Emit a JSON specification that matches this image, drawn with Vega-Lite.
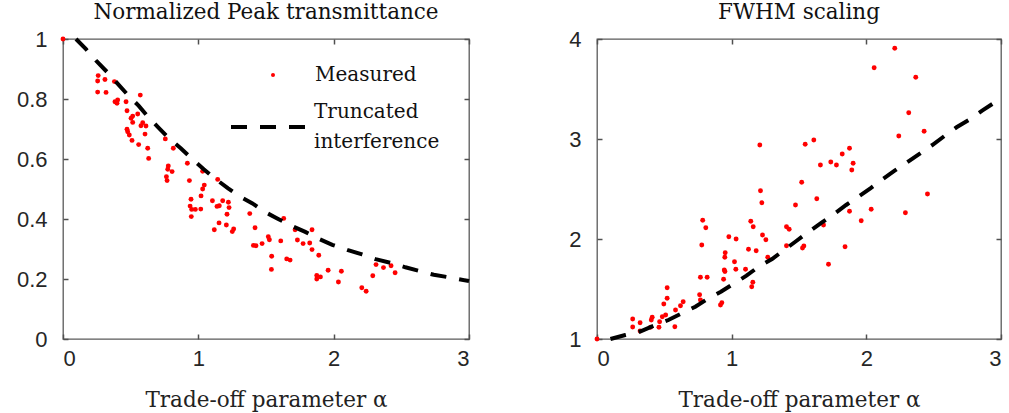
{
  "$schema": "https://vega.github.io/schema/vega-lite/v6.json",
  "padding": {"left": 15, "top": 0, "right": 0, "bottom": 0},
  "background": "white",
  "bounds": "flush",
  "spacing": 128,
  "datasets": {
    "leftMeas": [
      {"alpha": 0, "value": 1.0, "series": "Measured"},
      {"alpha": 0.26, "value": 0.878, "series": "Measured"},
      {"alpha": 0.256, "value": 0.86, "series": "Measured"},
      {"alpha": 0.31, "value": 0.865, "series": "Measured"},
      {"alpha": 0.38, "value": 0.858, "series": "Measured"},
      {"alpha": 0.256, "value": 0.823, "series": "Measured"},
      {"alpha": 0.318, "value": 0.822, "series": "Measured"},
      {"alpha": 0.571, "value": 0.813, "series": "Measured"},
      {"alpha": 0.384, "value": 0.791, "series": "Measured"},
      {"alpha": 0.404, "value": 0.797, "series": "Measured"},
      {"alpha": 0.399, "value": 0.786, "series": "Measured"},
      {"alpha": 0.466, "value": 0.791, "series": "Measured"},
      {"alpha": 0.473, "value": 0.761, "series": "Measured"},
      {"alpha": 0.552, "value": 0.75, "series": "Measured"},
      {"alpha": 0.515, "value": 0.743, "series": "Measured"},
      {"alpha": 0.503, "value": 0.736, "series": "Measured"},
      {"alpha": 0.515, "value": 0.722, "series": "Measured"},
      {"alpha": 0.589, "value": 0.721, "series": "Measured"},
      {"alpha": 0.576, "value": 0.711, "series": "Measured"},
      {"alpha": 0.613, "value": 0.71, "series": "Measured"},
      {"alpha": 0.473, "value": 0.699, "series": "Measured"},
      {"alpha": 0.478, "value": 0.691, "series": "Measured"},
      {"alpha": 0.49, "value": 0.68, "series": "Measured"},
      {"alpha": 0.606, "value": 0.683, "series": "Measured"},
      {"alpha": 0.51, "value": 0.662, "series": "Measured"},
      {"alpha": 0.559, "value": 0.648, "series": "Measured"},
      {"alpha": 0.626, "value": 0.636, "series": "Measured"},
      {"alpha": 0.633, "value": 0.602, "series": "Measured"},
      {"alpha": 0.756, "value": 0.667, "series": "Measured"},
      {"alpha": 0.815, "value": 0.636, "series": "Measured"},
      {"alpha": 0.919, "value": 0.586, "series": "Measured"},
      {"alpha": 0.778, "value": 0.577, "series": "Measured"},
      {"alpha": 0.774, "value": 0.566, "series": "Measured"},
      {"alpha": 0.806, "value": 0.558, "series": "Measured"},
      {"alpha": 0.764, "value": 0.541, "series": "Measured"},
      {"alpha": 0.769, "value": 0.528, "series": "Measured"},
      {"alpha": 0.934, "value": 0.528, "series": "Measured"},
      {"alpha": 1.032, "value": 0.559, "series": "Measured"},
      {"alpha": 1.143, "value": 0.532, "series": "Measured"},
      {"alpha": 1.044, "value": 0.513, "series": "Measured"},
      {"alpha": 1.032, "value": 0.5, "series": "Measured"},
      {"alpha": 1.02, "value": 0.477, "series": "Measured"},
      {"alpha": 0.946, "value": 0.466, "series": "Measured"},
      {"alpha": 1.104, "value": 0.461, "series": "Measured"},
      {"alpha": 1.18, "value": 0.461, "series": "Measured"},
      {"alpha": 1.222, "value": 0.456, "series": "Measured"},
      {"alpha": 0.939, "value": 0.443, "series": "Measured"},
      {"alpha": 1.155, "value": 0.444, "series": "Measured"},
      {"alpha": 1.138, "value": 0.442, "series": "Measured"},
      {"alpha": 1.227, "value": 0.438, "series": "Measured"},
      {"alpha": 0.951, "value": 0.432, "series": "Measured"},
      {"alpha": 0.978, "value": 0.432, "series": "Measured"},
      {"alpha": 1.018, "value": 0.433, "series": "Measured"},
      {"alpha": 1.212, "value": 0.416, "series": "Measured"},
      {"alpha": 1.38, "value": 0.418, "series": "Measured"},
      {"alpha": 0.948, "value": 0.408, "series": "Measured"},
      {"alpha": 1.153, "value": 0.387, "series": "Measured"},
      {"alpha": 1.207, "value": 0.38, "series": "Measured"},
      {"alpha": 1.118, "value": 0.364, "series": "Measured"},
      {"alpha": 1.261, "value": 0.367, "series": "Measured"},
      {"alpha": 1.251, "value": 0.358, "series": "Measured"},
      {"alpha": 1.419, "value": 0.371, "series": "Measured"},
      {"alpha": 1.631, "value": 0.402, "series": "Measured"},
      {"alpha": 1.715, "value": 0.364, "series": "Measured"},
      {"alpha": 1.84, "value": 0.364, "series": "Measured"},
      {"alpha": 1.517, "value": 0.341, "series": "Measured"},
      {"alpha": 1.525, "value": 0.331, "series": "Measured"},
      {"alpha": 1.609, "value": 0.327, "series": "Measured"},
      {"alpha": 1.732, "value": 0.33, "series": "Measured"},
      {"alpha": 1.774, "value": 0.318, "series": "Measured"},
      {"alpha": 1.823, "value": 0.32, "series": "Measured"},
      {"alpha": 1.471, "value": 0.318, "series": "Measured"},
      {"alpha": 1.407, "value": 0.312, "series": "Measured"},
      {"alpha": 1.426, "value": 0.311, "series": "Measured"},
      {"alpha": 1.84, "value": 0.298, "series": "Measured"},
      {"alpha": 1.89, "value": 0.279, "series": "Measured"},
      {"alpha": 1.542, "value": 0.276, "series": "Measured"},
      {"alpha": 1.653, "value": 0.267, "series": "Measured"},
      {"alpha": 1.678, "value": 0.263, "series": "Measured"},
      {"alpha": 1.959, "value": 0.229, "series": "Measured"},
      {"alpha": 2.057, "value": 0.226, "series": "Measured"},
      {"alpha": 1.54, "value": 0.232, "series": "Measured"},
      {"alpha": 1.875, "value": 0.212, "series": "Measured"},
      {"alpha": 1.902, "value": 0.207, "series": "Measured"},
      {"alpha": 1.875, "value": 0.2, "series": "Measured"},
      {"alpha": 2.035, "value": 0.19, "series": "Measured"},
      {"alpha": 2.208, "value": 0.171, "series": "Measured"},
      {"alpha": 2.24, "value": 0.159, "series": "Measured"},
      {"alpha": 2.313, "value": 0.248, "series": "Measured"},
      {"alpha": 2.368, "value": 0.238, "series": "Measured"},
      {"alpha": 2.424, "value": 0.244, "series": "Measured"},
      {"alpha": 2.454, "value": 0.221, "series": "Measured"},
      {"alpha": 2.289, "value": 0.211, "series": "Measured"}
    ],
    "leftLine": [
      {"alpha": 0.096, "value": 1.0, "series": "Truncated interference"},
      {"alpha": 0.17, "value": 0.966, "series": "Truncated interference"},
      {"alpha": 0.25, "value": 0.925, "series": "Truncated interference"},
      {"alpha": 0.33, "value": 0.888, "series": "Truncated interference"},
      {"alpha": 0.4, "value": 0.853, "series": "Truncated interference"},
      {"alpha": 0.47, "value": 0.818, "series": "Truncated interference"},
      {"alpha": 0.56, "value": 0.777, "series": "Truncated interference"},
      {"alpha": 0.63, "value": 0.74, "series": "Truncated interference"},
      {"alpha": 0.7, "value": 0.707, "series": "Truncated interference"},
      {"alpha": 0.78, "value": 0.67, "series": "Truncated interference"},
      {"alpha": 0.87, "value": 0.636, "series": "Truncated interference"},
      {"alpha": 0.95, "value": 0.602, "series": "Truncated interference"},
      {"alpha": 1.04, "value": 0.566, "series": "Truncated interference"},
      {"alpha": 1.12, "value": 0.536, "series": "Truncated interference"},
      {"alpha": 1.22, "value": 0.502, "series": "Truncated interference"},
      {"alpha": 1.3, "value": 0.477, "series": "Truncated interference"},
      {"alpha": 1.4, "value": 0.452, "series": "Truncated interference"},
      {"alpha": 1.49, "value": 0.424, "series": "Truncated interference"},
      {"alpha": 1.59, "value": 0.4, "series": "Truncated interference"},
      {"alpha": 1.69, "value": 0.377, "series": "Truncated interference"},
      {"alpha": 1.79, "value": 0.357, "series": "Truncated interference"},
      {"alpha": 1.89, "value": 0.334, "series": "Truncated interference"},
      {"alpha": 1.99, "value": 0.314, "series": "Truncated interference"},
      {"alpha": 2.1, "value": 0.297, "series": "Truncated interference"},
      {"alpha": 2.21, "value": 0.282, "series": "Truncated interference"},
      {"alpha": 2.31, "value": 0.266, "series": "Truncated interference"},
      {"alpha": 2.42, "value": 0.254, "series": "Truncated interference"},
      {"alpha": 2.53, "value": 0.239, "series": "Truncated interference"},
      {"alpha": 2.63, "value": 0.227, "series": "Truncated interference"},
      {"alpha": 2.74, "value": 0.214, "series": "Truncated interference"},
      {"alpha": 2.86, "value": 0.205, "series": "Truncated interference"},
      {"alpha": 3.0, "value": 0.193, "series": "Truncated interference"}
    ],
    "rightMeas": [
      {"alpha": 0, "value": 1.0},
      {"alpha": 0.265, "value": 1.2},
      {"alpha": 0.265, "value": 1.12},
      {"alpha": 0.32, "value": 1.163},
      {"alpha": 0.32, "value": 1.08},
      {"alpha": 0.41, "value": 1.217},
      {"alpha": 0.403, "value": 1.19},
      {"alpha": 0.398, "value": 1.117},
      {"alpha": 0.46, "value": 1.117},
      {"alpha": 0.465, "value": 1.173},
      {"alpha": 0.485, "value": 1.223},
      {"alpha": 0.51, "value": 1.24},
      {"alpha": 0.521, "value": 1.513},
      {"alpha": 0.521, "value": 1.407},
      {"alpha": 0.496, "value": 1.35},
      {"alpha": 0.578, "value": 1.123},
      {"alpha": 0.583, "value": 1.29},
      {"alpha": 0.62, "value": 1.333},
      {"alpha": 0.64, "value": 1.373},
      {"alpha": 0.785, "value": 2.187},
      {"alpha": 0.808, "value": 2.113},
      {"alpha": 0.778, "value": 1.94},
      {"alpha": 0.768, "value": 1.617},
      {"alpha": 0.818, "value": 1.617},
      {"alpha": 0.762, "value": 1.443},
      {"alpha": 0.768, "value": 1.39},
      {"alpha": 0.979, "value": 2.023},
      {"alpha": 1.033, "value": 2.0},
      {"alpha": 0.952, "value": 1.863},
      {"alpha": 0.949, "value": 1.817},
      {"alpha": 1.021, "value": 1.773},
      {"alpha": 0.945, "value": 1.69},
      {"alpha": 0.95, "value": 1.675},
      {"alpha": 1.031, "value": 1.697},
      {"alpha": 1.103, "value": 1.697},
      {"alpha": 0.94, "value": 1.597},
      {"alpha": 0.927, "value": 1.363},
      {"alpha": 0.917, "value": 1.34},
      {"alpha": 1.125, "value": 1.897},
      {"alpha": 1.182, "value": 1.883},
      {"alpha": 1.149, "value": 1.523},
      {"alpha": 1.157, "value": 1.567},
      {"alpha": 1.142, "value": 2.177},
      {"alpha": 1.16, "value": 2.123},
      {"alpha": 1.229, "value": 2.04},
      {"alpha": 1.254, "value": 1.993},
      {"alpha": 1.268, "value": 1.817},
      {"alpha": 1.407, "value": 2.123},
      {"alpha": 1.427, "value": 2.097},
      {"alpha": 1.407, "value": 1.933},
      {"alpha": 1.214, "value": 2.483},
      {"alpha": 1.224, "value": 2.363},
      {"alpha": 1.209, "value": 2.94},
      {"alpha": 1.474, "value": 2.34},
      {"alpha": 1.52, "value": 2.567},
      {"alpha": 1.546, "value": 2.947},
      {"alpha": 1.61, "value": 2.99},
      {"alpha": 1.632, "value": 2.403},
      {"alpha": 1.536, "value": 1.93},
      {"alpha": 1.526, "value": 1.91},
      {"alpha": 1.659, "value": 2.74},
      {"alpha": 1.736, "value": 2.77},
      {"alpha": 1.778, "value": 2.74},
      {"alpha": 1.821, "value": 2.85},
      {"alpha": 1.875, "value": 2.907},
      {"alpha": 1.902, "value": 2.757},
      {"alpha": 1.892, "value": 2.69},
      {"alpha": 1.682, "value": 2.14},
      {"alpha": 1.719, "value": 1.747},
      {"alpha": 1.842, "value": 1.923},
      {"alpha": 1.875, "value": 2.277},
      {"alpha": 1.962, "value": 2.183},
      {"alpha": 2.036, "value": 2.297},
      {"alpha": 2.058, "value": 3.713},
      {"alpha": 2.211, "value": 3.907},
      {"alpha": 2.241, "value": 3.03},
      {"alpha": 2.29, "value": 2.263},
      {"alpha": 2.315, "value": 3.263},
      {"alpha": 2.367, "value": 3.617},
      {"alpha": 2.429, "value": 3.077},
      {"alpha": 2.454, "value": 2.45}
    ],
    "rightLine": [
      {"alpha": 0.1, "value": 1.0},
      {"alpha": 0.21, "value": 1.04},
      {"alpha": 0.32, "value": 1.075},
      {"alpha": 0.42, "value": 1.133},
      {"alpha": 0.53, "value": 1.19},
      {"alpha": 0.63, "value": 1.257},
      {"alpha": 0.73, "value": 1.323},
      {"alpha": 0.82, "value": 1.4},
      {"alpha": 0.92, "value": 1.473},
      {"alpha": 1.02, "value": 1.557},
      {"alpha": 1.11, "value": 1.633},
      {"alpha": 1.2, "value": 1.723},
      {"alpha": 1.3, "value": 1.8},
      {"alpha": 1.39, "value": 1.89},
      {"alpha": 1.48, "value": 1.98},
      {"alpha": 1.57, "value": 2.07},
      {"alpha": 1.66, "value": 2.157},
      {"alpha": 1.75, "value": 2.24},
      {"alpha": 1.85, "value": 2.34},
      {"alpha": 1.94, "value": 2.423},
      {"alpha": 2.03, "value": 2.507},
      {"alpha": 2.12, "value": 2.597},
      {"alpha": 2.21, "value": 2.683},
      {"alpha": 2.3, "value": 2.763},
      {"alpha": 2.4, "value": 2.857},
      {"alpha": 2.49, "value": 2.94},
      {"alpha": 2.58, "value": 3.03},
      {"alpha": 2.67, "value": 3.117},
      {"alpha": 2.77, "value": 3.197},
      {"alpha": 2.86, "value": 3.283},
      {"alpha": 2.95, "value": 3.363},
      {"alpha": 3.0, "value": 3.417}
    ]
  },
  "hconcat": [
    {
      "width": 406,
      "height": 300,
      "title": {"text": "Normalized Peak transmittance"},
      "resolve": {"axis": {"x": "independent", "y": "independent"}},
      "layer": [
        {
          "data": {"name": "leftMeas"},
          "mark": {"type": "circle", "size": 24, "opacity": 1},
          "encoding": {
            "x": {"field": "alpha", "type": "quantitative", "scale": {"domain": [0, 3], "nice": false, "zero": false},
                  "axis": {"orient": "bottom", "values": [0, 1, 2, 3], "title": "Trade-off parameter α", "labelPadding": 9,
                           "ticks": true, "tickSize": 5, "tickColor": "#505050", "tickWidth": 1.5, "tickOpacity": 1, "offset": -5, "domain": false}},
            "y": {"field": "value", "type": "quantitative", "scale": {"domain": [0, 1], "nice": false, "zero": false},
                  "axis": {"orient": "left", "values": [0, 0.2, 0.4, 0.6, 0.8, 1], "format": "~g", "title": null, "labelPadding": 16,
                           "ticks": true, "tickSize": 5, "tickColor": "#505050", "tickWidth": 1.5, "tickOpacity": 1, "offset": -5, "domain": false}},
            "color": {"field": "series", "type": "nominal",
                      "scale": {"domain": ["Measured"], "range": ["#ff0000"]},
                      "legend": {
                        "title": null, "orient": "none", "legendX": 200, "legendY": 26,
                        "symbolType": "circle", "symbolSize": 16, "symbolStrokeWidth": 0,
                        "labelOffset": 32,
                        "labelFont": "DejaVu Serif", "labelFontSize": 20, "labelColor": "#111111", "labelLimit": 300
                      }}
          }
        },
        {
          "data": {"name": "leftLine"},
          "mark": {"type": "line", "strokeWidth": 4, "strokeCap": "butt", "color": "#000000"},
          "encoding": {
            "x": {"field": "alpha", "type": "quantitative", "axis": {"orient": "top", "values": [0, 1, 2, 3], "labels": false, "title": null,
                  "ticks": true, "tickSize": 5, "tickColor": "#505050", "tickWidth": 1.5, "tickOpacity": 1, "offset": -5, "domain": false}},
            "y": {"field": "value", "type": "quantitative", "axis": {"orient": "right", "values": [0, 0.2, 0.4, 0.6, 0.8, 1], "labels": false, "title": null,
                  "ticks": true, "tickSize": 5, "tickColor": "#505050", "tickWidth": 1.5, "tickOpacity": 1, "offset": -5, "domain": false}},
            "strokeDash": {"field": "series", "type": "nominal",
                           "scale": {"domain": ["Truncated interference"], "range": [[16, 13]]},
                           "legend": {
                             "title": null, "orient": "none", "legendX": 166, "legendY": 47,
                             "symbolType": "stroke", "symbolSize": 6084, "symbolStrokeWidth": 4, "symbolStrokeColor": "#000000",
                             "labelOffset": 3, "labelBaseline": "line-bottom",
                             "labelFont": "DejaVu Serif", "labelFontSize": 20, "labelColor": "#111111", "labelLimit": 300,
                             "labelExpr": "['Truncated', 'interference']"
                           }}
          }
        }
      ]
    },
    {
      "width": 404,
      "height": 300,
      "title": {"text": "FWHM scaling"},
      "resolve": {"axis": {"x": "independent", "y": "independent"}},
      "layer": [
        {
          "data": {"name": "rightMeas"},
          "mark": {"type": "circle", "size": 24, "opacity": 1, "color": "#ff0000"},
          "encoding": {
            "x": {"field": "alpha", "type": "quantitative", "scale": {"domain": [0, 3], "nice": false, "zero": false},
                  "axis": {"orient": "bottom", "values": [0, 1, 2, 3], "title": "Trade-off parameter α", "labelPadding": 9,
                           "ticks": true, "tickSize": 5, "tickColor": "#505050", "tickWidth": 1.5, "tickOpacity": 1, "offset": -5, "domain": false}},
            "y": {"field": "value", "type": "quantitative", "scale": {"domain": [1, 4], "nice": false, "zero": false},
                  "axis": {"orient": "left", "values": [1, 2, 3, 4], "title": null, "labelPadding": 16,
                           "ticks": true, "tickSize": 5, "tickColor": "#505050", "tickWidth": 1.5, "tickOpacity": 1, "offset": -5, "domain": false}}
          }
        },
        {
          "data": {"name": "rightLine"},
          "mark": {"type": "line", "strokeDash": [16, 13], "strokeWidth": 4, "strokeCap": "butt", "color": "#000000"},
          "encoding": {
            "x": {"field": "alpha", "type": "quantitative", "axis": {"orient": "top", "values": [0, 1, 2, 3], "labels": false, "title": null,
                  "ticks": true, "tickSize": 5, "tickColor": "#505050", "tickWidth": 1.5, "tickOpacity": 1, "offset": -5, "domain": false}},
            "y": {"field": "value", "type": "quantitative", "axis": {"orient": "right", "values": [1, 2, 3, 4], "labels": false, "title": null,
                  "ticks": true, "tickSize": 5, "tickColor": "#505050", "tickWidth": 1.5, "tickOpacity": 1, "offset": -5, "domain": false}}
          }
        }
      ]
    }
  ],
  "config": {
    "view": {"stroke": "#5a5a5a", "strokeWidth": 1.3},
    "style": {"guide-label": {"lineHeight": 30}},
    "axis": {
      "grid": false,
      "domain": false,
      "ticks": true,
      "zindex": 2,
      "offset": -5,
      "tickColor": "#505050", "tickWidth": 1.5, "tickSize": 5, "tickOpacity": 1,
      "labelFont": "Liberation Sans", "labelFontSize": 22, "labelColor": "#262626",
      "titleFont": "DejaVu Serif", "titleFontSize": 21.5, "titleFontWeight": "normal", "titleColor": "#222222",
      "titlePadding": 20
    },
    "title": {"font": "DejaVu Serif", "fontSize": 21.5, "fontWeight": "normal", "color": "#111111", "offset": 5, "anchor": "middle"}
  }
}
